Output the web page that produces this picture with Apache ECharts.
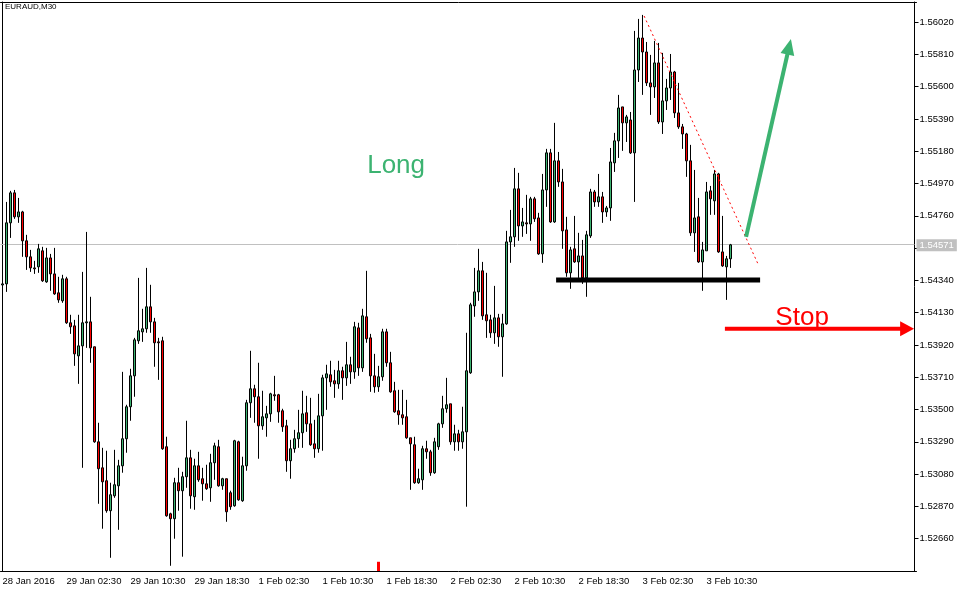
<!DOCTYPE html>
<html><head><meta charset="utf-8">
<script src="https://cdn.jsdelivr.net/npm/echarts/dist/echarts.min.js"></script>
<style>html,body{margin:0;padding:0;background:#fff}#c{width:967px;height:592px}</style>
</head><body><div id="c"></div><script>
const symbolTitle = 'EURAUD,M30';
const opens = [
1.54310,
1.54317,1.54714,1.54909,1.54753,1.54785,1.54597,1.54493,1.54421,1.54428,1.54532,
1.54330,1.54486,1.54382,1.54259,1.54207,1.54350,1.54064,1.54044,1.53849,1.53914,
1.54064,1.54070,1.53908,1.53290,1.53121,1.53037,1.52842,1.52939,1.53004,1.53134,
1.53310,1.53518,1.53719,1.53947,1.54005,1.54025,1.54168,1.54070,1.53940,1.53947,
1.53258,1.52822,1.52790,1.53024,1.52972,1.53063,1.53186,1.52933,1.53134,1.53050,
1.53017,1.52991,1.53154,1.53258,1.53004,1.53050,1.52959,1.52874,1.53290,1.52907,
1.53134,1.53544,1.53635,1.53583,1.53394,1.53446,1.53472,1.53596,1.53596,1.53492,
1.53394,1.53167,1.53245,1.53310,1.53349,1.53479,1.53407,1.53277,1.53245,1.53459,
1.53706,1.53726,1.53687,1.53667,1.53752,1.53706,1.53791,1.53745,1.54031,1.53771,
1.54103,1.53966,1.53719,1.53648,1.53713,1.54005,1.53804,1.53622,1.53492,1.53466,
1.53453,1.53316,1.53271,1.53024,1.53043,1.53245,1.53225,1.53089,1.53258,1.53407,
1.53505,1.53537,1.53290,1.53342,1.53290,1.53355,1.53739,1.54174,1.54265,1.54402,
1.54116,1.54083,1.53999,1.54096,1.53973,1.54057,1.54590,1.54623,1.54935,1.54694,
1.54714,1.54707,1.54870,1.54746,1.54512,1.54928,1.55169,1.54720,1.55117,1.54980,
1.54668,1.54389,1.54545,1.54460,1.54499,1.54356,1.54629,1.54915,1.54850,1.54883,
1.54785,1.54811,1.55104,1.55247,1.55468,1.55364,1.55383,1.55169,1.55708,1.55916,
1.55825,1.55624,1.55598,1.55754,1.55370,1.55507,1.55591,1.55695,1.55429,1.55338,
1.55292,1.55117,1.54649,1.54753,1.54460,1.54532,1.54922,1.54857,1.55032,1.54525,
1.54428,1.54480];
const closes = [
1.54317,
1.54714,1.54909,1.54753,1.54785,1.54597,1.54493,1.54421,1.54415,1.54545,1.54337,
1.54486,1.54382,1.54252,1.54213,1.54350,1.54064,1.54038,1.53862,1.53914,1.54064,
1.54070,1.53901,1.53290,1.53115,1.53030,1.52842,1.52946,1.53011,1.53134,1.53310,
1.53518,1.53719,1.53953,1.54012,1.54025,1.54168,1.54070,1.53934,1.53934,1.53245,
1.52809,1.52790,1.53024,1.52972,1.53063,1.53186,1.52939,1.53134,1.53043,1.53017,
1.52985,1.53154,1.53264,1.53004,1.53050,1.52835,1.52868,1.53297,1.52913,1.53134,
1.53544,1.53635,1.53583,1.53394,1.53453,1.53472,1.53602,1.53589,1.53485,1.53388,
1.53167,1.53245,1.53310,1.53349,1.53472,1.53407,1.53271,1.53245,1.53459,1.53706,
1.53732,1.53680,1.53667,1.53752,1.53706,1.53791,1.53745,1.54038,1.53771,1.54109,
1.53960,1.53719,1.53648,1.53713,1.54005,1.53804,1.53615,1.53485,1.53466,1.53446,
1.53316,1.53277,1.53024,1.53050,1.53245,1.53225,1.53089,1.53290,1.53407,1.53505,
1.53531,1.53290,1.53342,1.53290,1.53355,1.53752,1.54181,1.54265,1.54402,1.54109,
1.54077,1.53999,1.54096,1.53973,1.54057,1.54590,1.54623,1.54935,1.54694,1.54720,
1.54707,1.54870,1.54740,1.54512,1.54928,1.55169,1.54720,1.55117,1.54980,1.54662,
1.54389,1.54538,1.54460,1.54499,1.54356,1.54636,1.54915,1.54850,1.54883,1.54785,
1.54811,1.55110,1.55247,1.55461,1.55364,1.55403,1.55169,1.55708,1.55916,1.55825,
1.55624,1.55598,1.55754,1.55370,1.55507,1.55591,1.55695,1.55429,1.55338,1.55292,
1.55117,1.54649,1.54746,1.54460,1.54538,1.54915,1.54870,1.55032,1.54525,1.54434,
1.54480,1.54571];
const lows = [
1.54290,
1.54265,1.54616,1.54740,1.54714,1.54493,1.54408,1.54395,1.54382,1.54389,1.54330,
1.54324,1.54272,1.54246,1.54194,1.54194,1.54057,1.53992,1.53784,1.53667,1.53121,
1.53901,1.53804,1.53284,1.52887,1.52725,1.52829,1.52536,1.52926,1.52718,1.53089,
1.53219,1.53427,1.53583,1.53927,1.53940,1.53999,1.53999,1.53778,1.53693,1.53238,
1.52803,1.52484,1.52660,1.52842,1.52543,1.52991,1.52855,1.52848,1.53030,1.52907,
1.52978,1.52900,1.53043,1.52998,1.52978,1.52770,1.52848,1.52868,1.52907,1.52900,
1.53102,1.53446,1.53414,1.53180,1.53368,1.53323,1.53420,1.53557,1.53414,1.53355,
1.53095,1.53050,1.53219,1.53251,1.53251,1.53355,1.53264,1.53186,1.53219,1.53232,
1.53498,1.53648,1.53576,1.53635,1.53563,1.53654,1.53667,1.53700,1.53719,1.53745,
1.53934,1.53615,1.53609,1.53615,1.53687,1.53778,1.53609,1.53479,1.53401,1.53401,
1.53310,1.52978,1.53017,1.53017,1.52978,1.53180,1.53069,1.53082,1.53238,1.53381,
1.53479,1.53271,1.53232,1.53232,1.53245,1.52868,1.53732,1.54103,1.54207,1.54083,
1.53966,1.53966,1.53927,1.53908,1.53713,1.54051,1.54454,1.54558,1.54597,1.54623,
1.54642,1.54597,1.54720,1.54506,1.54454,1.54818,1.54714,1.54714,1.54948,1.54545,
1.54363,1.54285,1.54454,1.54356,1.54317,1.54233,1.54616,1.54818,1.54818,1.54714,
1.54753,1.54727,1.55045,1.55136,1.55182,1.55240,1.55162,1.54850,1.55630,1.55546,
1.55604,1.55416,1.55526,1.55357,1.55292,1.55448,1.55513,1.55396,1.55325,1.55195,
1.55013,1.54629,1.54525,1.54454,1.54272,1.54532,1.54766,1.54766,1.54519,1.54428,
1.54213,1.54421];
const highs = [
1.54340,
1.54850,1.54922,1.54928,1.54876,1.54792,1.54636,1.54538,1.54467,1.54577,1.54558,
1.54551,1.54512,1.54551,1.54363,1.54376,1.54363,1.54116,1.54083,1.54116,1.54395,
1.54655,1.54233,1.53908,1.53414,1.53251,1.53232,1.53024,1.53238,1.53173,1.53745,
1.53531,1.53765,1.53966,1.54356,1.54155,1.54421,1.54311,1.54096,1.53966,1.53973,
1.53323,1.52829,1.53056,1.53121,1.53095,1.53427,1.53238,1.53180,1.53225,1.53121,
1.53141,1.53212,1.53284,1.53303,1.53056,1.53050,1.52972,1.53303,1.53297,1.53193,
1.53563,1.53882,1.53661,1.53804,1.53622,1.53524,1.53609,1.53719,1.53602,1.53505,
1.53433,1.53303,1.53368,1.53498,1.53622,1.53589,1.53576,1.53433,1.53602,1.53726,
1.53791,1.53817,1.53758,1.53817,1.53778,1.53940,1.53843,1.54070,1.54064,1.54155,
1.54402,1.53992,1.53862,1.53784,1.54025,1.54025,1.53875,1.53680,1.53628,1.53628,
1.53563,1.53316,1.53323,1.53115,1.53264,1.53297,1.53238,1.53316,1.53414,1.53589,
1.53706,1.53537,1.53401,1.53368,1.53518,1.53999,1.54194,1.54421,1.54545,1.54460,
1.54389,1.54116,1.54304,1.54122,1.54122,1.54662,1.54798,1.55071,1.55039,1.54811,
1.54896,1.54883,1.54883,1.54779,1.55032,1.55195,1.55195,1.55364,1.55175,1.55065,
1.54753,1.54558,1.54759,1.54649,1.54603,1.54662,1.54935,1.54928,1.55032,1.54915,
1.54824,1.55201,1.55299,1.55546,1.55468,1.55416,1.55435,1.55962,1.56040,1.56066,
1.55890,1.55806,1.55897,1.55884,1.55819,1.55650,1.55812,1.55702,1.55624,1.55357,
1.55299,1.55221,1.55058,1.54876,1.54590,1.54980,1.54954,1.55058,1.55039,1.54759,
1.54499,1.54577];
const tickLabels = ['28 Jan 2016','29 Jan 02:30','29 Jan 10:30','29 Jan 18:30','1 Feb 02:30','1 Feb 10:30','1 Feb 18:30','2 Feb 02:30','2 Feb 10:30','2 Feb 18:30','3 Feb 02:30','3 Feb 10:30'];
const barsPerTick = 16;
const totalSlots = 229;
const yTicks = [1.52660,1.52870,1.53080,1.53290,1.53500,1.53710,1.53920,1.54130,1.54340,1.54550,1.54760,1.54970,1.55180,1.55390,1.55600,1.55810,1.56020];
const yMin = 1.52450, yMax = 1.56150;
const bidPrice = 1.54571;
// annotations in (bar index, price)
const longLabel = {text:'Long', idx:98.4, price:1.55084};
const stopLabel = {text:'Stop', idx:199.9, price:1.54096};
const greenArrow = [[185.9, 1.54623],[197.1, 1.55910]];
const trendLine = [[160.4, 1.56059],[189.1, 1.54434]];
const supportLine = [[138.4, 1.54343],[189.4, 1.54343]];
const stopArrow = [[180.6, 1.54025],[227.9, 1.54025]];
const markerBar = {idx:94, top:1.52510, bottom:1.52450};

const UP = '#3CB371', DOWN = '#FF0000';
const FONT = "'Liberation Sans',Arial,sans-serif";
const SMALL = 9.5;
const cats = Array.from({length: totalSlots}, (_, i) => String(i));
const candleData = opens.map((o, i) => [o, closes[i], lows[i], highs[i]]);
const isTick = (idx) => idx % barsPerTick === 0 && idx / barsPerTick < tickLabels.length;

const chart = echarts.init(document.getElementById('c'));
chart.setOption({
  animation: false,
  textStyle: {fontFamily: FONT},
  title: {text: symbolTitle, left: 5, top: 3, padding: 0, textStyle: {fontSize: 8, fontWeight: 'normal', color: '#000', fontFamily: FONT}},
  grid: {left: 0.5, right: 50.5, top: 2, bottom: 21, containLabel: false, outerBoundsMode: 'none'},
  xAxis: [{
    type: 'category', data: cats, boundaryGap: true, position: 'bottom',
    axisLine: {lineStyle: {color: '#000', width: 1}},
    axisTick: {alignWithLabel: true, length: 4, interval: isTick, lineStyle: {color: '#000'}},
    axisLabel: {interval: isTick, formatter: (v) => tickLabels[Math.round(Number(v) / barsPerTick)] || '', align: 'left', color: '#000', fontSize: SMALL, margin: 5, fontFamily: FONT},
    splitLine: {show: false}
  }, {
    type: 'category', data: cats, boundaryGap: true, position: 'top',
    axisLine: {lineStyle: {color: '#000', width: 1}}, axisTick: {show: false}, axisLabel: {show: false}, splitLine: {show: false}
  }],
  yAxis: [{
    type: 'value', position: 'right', offset: -2, min: yMin, max: yMax,
    axisLine: {show: true, lineStyle: {color: '#000'}},
    axisTick: {show: true, length: 4, customValues: yTicks, lineStyle: {color: '#000'}},
    axisLabel: {customValues: yTicks, formatter: v => Number(v).toFixed(5), color: '#000', fontSize: SMALL, margin: 5, fontFamily: FONT},
    splitLine: {show: false}
  }, {
    type: 'value', position: 'left', offset: -2, min: yMin, max: yMax,
    axisLine: {show: true, lineStyle: {color: '#000'}}, axisTick: {show: false}, axisLabel: {show: false}, splitLine: {show: false}
  }],
  series: [{
    type: 'candlestick', data: candleData, barWidth: 2, z: 3,
    itemStyle: {color: UP, color0: DOWN, borderColor: '#000', borderColor0: '#000', borderWidth: 1},
    emphasis: {disabled: true}
  }]
});

function toPx(idx, price) {
  const i0 = Math.floor(idx), f = idx - i0;
  const a = chart.convertToPixel({xAxisIndex: 0, yAxisIndex: 0}, [i0, price]);
  const b = chart.convertToPixel({xAxisIndex: 0, yAxisIndex: 0}, [i0 + 1, price]);
  return [a[0] + (b[0] - a[0]) * f, a[1]];
}
function arrow(pts, color, width, headLen, headW) {
  const p0 = toPx(pts[0][0], pts[0][1]), p1 = toPx(pts[1][0], pts[1][1]);
  const dx = p1[0] - p0[0], dy = p1[1] - p0[1], L = Math.hypot(dx, dy), ux = dx / L, uy = dy / L;
  const bx = p1[0] - ux * headLen, by = p1[1] - uy * headLen;
  return [
    {type: 'polyline', silent: true, z: 50, shape: {points: [p0, [bx + ux, by + uy]]}, style: {stroke: color, lineWidth: width, fill: null}},
    {type: 'polygon', silent: true, z: 50, shape: {points: [p1, [bx - uy * headW / 2, by + ux * headW / 2], [bx + uy * headW / 2, by - ux * headW / 2]]}, style: {fill: color, stroke: null}}
  ];
}
function label(o, color) {
  const p = toPx(o.idx, o.price);
  return {type: 'text', silent: true, z: 50, x: p[0], y: p[1], style: {text: o.text, fill: color, fontSize: 26, fontFamily: FONT, align: 'center', verticalAlign: 'middle'}};
}
const band = toPx(1, bidPrice)[0] - toPx(0, bidPrice)[0];
const bidL = toPx(0, bidPrice), bidR = toPx(totalSlots - 1, bidPrice);
const bidY = Math.round(bidL[1] - 0.5) + 0.5;
const gridLeft = bidL[0] - band / 2, gridRight = bidR[0] + band / 2;
const tl0 = toPx(trendLine[0][0], trendLine[0][1]), tl1 = toPx(trendLine[1][0], trendLine[1][1]);
const sl0 = toPx(supportLine[0][0], supportLine[0][1]), sl1 = toPx(supportLine[1][0], supportLine[1][1]);
const mTop = toPx(markerBar.idx, markerBar.top), mBot = toPx(markerBar.idx, markerBar.bottom);
const graphics = [
  {type: 'line', silent: true, z: 1, shape: {x1: gridLeft, y1: bidY, x2: gridRight - 2, y2: bidY}, style: {stroke: '#c0c0c0', lineWidth: 1}},
  {type: 'text', silent: true, z: 60, x: gridRight, y: bidL[1] + 0.5, style: {text: bidPrice.toFixed(5), fill: '#fff', backgroundColor: '#c0c0c0', padding: [1, 3, 1, 3], fontSize: SMALL, fontFamily: FONT, align: 'left', verticalAlign: 'middle'}},
  {type: 'line', silent: true, z: 49, shape: {x1: tl0[0], y1: tl0[1], x2: tl1[0], y2: tl1[1]}, style: {stroke: '#ff0000', lineWidth: 1, lineDash: [2, 3]}},
  {type: 'line', silent: true, z: 49, shape: {x1: sl0[0], y1: sl0[1], x2: sl1[0], y2: sl1[1]}, style: {stroke: '#000', lineWidth: 5}},
  {type: 'rect', silent: true, z: 49, shape: {x: mTop[0] - 1.5, y: mTop[1], width: 3, height: mBot[1] - mTop[1]}, style: {fill: '#ff0000'}},
  label(longLabel, UP),
  label(stopLabel, '#ff0000')
].concat(arrow(greenArrow, UP, 4, 16, 14)).concat(arrow(stopArrow, '#ff0000', 4, 14, 15));
chart.setOption({graphic: graphics});
</script></body></html>
